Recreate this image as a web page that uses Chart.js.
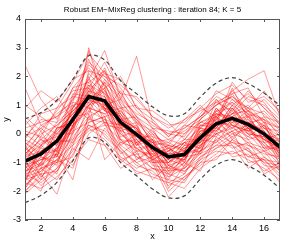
<!DOCTYPE html>
<html>
<head>
<meta charset="utf-8">
<script src="https://cdn.jsdelivr.net/npm/chart.js@4"></script>
<style>
  html, body { margin: 0; padding: 0; background: #fff; }
  #wrap { width: 284px; height: 242px; }
</style>
</head>
<body>
<div id="wrap"><canvas id="chart" width="284" height="242"></canvas></div>
<script>
const xs = [1,2,3,4,5,6,7,8,9,10,11,12,13,14,15,16,17];
const xTicks = [2,4,6,8,10,12,14,16];
const yTicks = [-3,-2,-1,0,1,2,3,4];

// cluster mean and the +/- bands (dashed)
const meanCurve = [-0.95,-0.7,-0.25,0.5,1.3,1.15,0.4,-0.02,-0.48,-0.8,-0.72,-0.14,0.35,0.54,0.33,0.0,-0.46];
const upperBand = [0.52,0.74,1.17,1.9,2.72,2.57,1.85,1.4,0.94,0.63,0.7,1.28,1.77,1.96,1.75,1.42,0.98];
const lowerBand = [-2.4,-2.14,-1.69,-0.94,-0.14,-0.3,-1.0,-1.46,-1.92,-2.23,-2.16,-1.58,-1.09,-0.9,-1.11,-1.44,-1.9];

// observed curves (red)
const curves = [
  [-1.2,-0.5,-0.6,0.9,1.6,0.8,0.7,-0.3,-0.2,-1.1,-0.4,-0.5,0.6,0.2,0.7,-0.3,-0.2],
  [-0.4,-1.1,0.2,0.3,2.1,1.5,0.1,0.3,-0.9,-0.6,-1.0,0.2,0.1,0.9,0.1,0.4,-0.8],
  [-1.8,-1.3,-0.9,-0.1,0.6,0.9,-0.2,-0.6,-0.7,-1.5,-1.2,-0.6,-0.2,0.1,-0.3,-0.5,-1.1],
  [0.2,0.4,0.6,1.2,2.4,1.9,1.3,0.6,0.2,-0.2,0.1,0.5,1.0,1.3,0.9,0.7,0.1],
  [-1.5,-0.8,-1.0,0.3,1.0,1.6,0.2,0.4,-1.0,-0.9,-0.3,-0.7,0.7,0.4,-0.1,0.3,-0.7],
  [-0.7,-0.2,-0.4,1.1,0.9,0.7,0.9,-0.4,0.1,-0.5,-1.0,0.3,0.2,1.0,0.6,-0.2,0.0],
  [2.4,1.2,0.5,1.6,1.8,2.2,1.1,0.5,-0.1,-0.3,0.2,0.6,1.1,0.8,1.5,0.9,0.4],
  [-2.1,-1.6,-1.2,-0.6,0.3,0.1,-0.5,-1.1,-1.3,-1.8,-1.5,-1.0,-0.5,-0.3,-0.6,-0.9,-1.4],
  [-0.9,-0.3,-0.1,0.2,3.0,0.8,0.5,0.2,-0.4,-0.7,-0.6,0.1,0.3,0.6,0.2,0.2,-0.3],
  [-1.3,-1.0,0.1,0.7,1.2,1.3,-0.1,0.1,-0.6,-1.2,-0.8,-0.2,0.9,0.3,0.1,-0.4,-0.6],
  [-0.5,-0.9,-0.7,0.5,1.7,1.0,0.6,-0.2,-0.8,-0.4,-0.5,-0.4,0.4,0.7,0.8,0.1,-0.9],
  [-1.6,-0.6,-0.3,-0.2,0.8,0.5,0.3,-0.9,-0.5,-1.3,-0.9,0.0,-0.1,0.5,0.0,-0.6,-0.4],
  [0.5,-0.2,0.3,0.8,1.4,2.3,1.0,0.4,-0.2,-0.5,-0.2,0.4,0.6,1.1,0.4,0.5,0.2],
  [-1.0,-1.4,-0.5,0.4,2.0,0.3,0.2,0.0,-0.3,-0.9,-1.1,-0.3,0.5,0.2,0.6,-0.1,-0.8],
  [-0.3,-0.7,-0.2,1.4,1.3,1.1,0.8,0.2,-0.6,-0.6,-0.3,0.2,0.0,0.9,0.3,0.6,-0.1],
  [-1.4,-1.2,-1.0,0.0,1.1,1.2,0.0,-0.5,-0.9,-1.6,-0.7,-0.5,0.2,-0.1,0.2,-0.4,-1.0],
  [-0.8,0.1,-0.8,0.6,0.7,1.8,0.4,-0.3,0.0,-0.8,-0.9,-0.1,0.8,0.5,-0.2,0.0,-0.3],
  [-1.9,-1.0,-1.4,0.1,0.4,0.6,-0.7,-0.3,-1.1,-1.2,-1.3,-0.8,-0.4,0.0,-0.2,-0.8,-1.2],
  [0.0,-0.4,0.4,0.9,1.9,1.4,0.9,0.5,-0.3,-0.2,-0.4,0.3,0.5,1.2,0.7,0.2,-0.2],
  [-1.1,-0.9,-0.5,0.2,1.5,0.9,0.6,-0.6,-0.4,-1.0,-0.6,-0.3,0.3,0.4,0.5,-0.2,-0.5],
  [1.6,0.3,0.0,0.7,1.2,0.9,0.3,0.0,-0.7,-0.5,-0.8,0.0,0.4,0.3,0.1,0.3,-0.6],
  [-1.7,-0.4,-0.8,0.5,1.0,1.2,-0.3,-0.2,-0.8,-1.4,-1.0,-0.6,0.1,0.7,0.2,-0.3,-0.9],
  [-0.6,-1.2,0.0,0.0,2.2,1.7,0.7,0.1,-0.5,-0.7,-0.2,-0.2,0.6,-0.2,0.4,0.1,-0.4],
  [-1.2,-0.7,-0.6,1.0,0.5,0.4,0.1,-0.1,-0.1,-1.1,-0.9,0.1,0.2,0.8,0.0,-0.1,-0.7],
  [-0.2,-0.5,0.2,0.4,1.6,1.0,1.2,0.3,-0.6,-0.9,-0.5,-0.1,0.7,0.6,0.9,0.2,0.1],
  [-1.5,-1.3,-0.7,0.3,0.9,0.7,0.0,-0.4,-0.2,-1.9,-1.1,-0.4,0.0,0.2,-0.1,-0.3,-0.8],
  [-0.8,-0.6,-0.2,0.8,1.3,2.2,0.5,0.6,-0.4,-0.3,-0.6,0.4,0.3,1.6,0.5,0.0,-0.2],
  [-1.0,-0.1,-0.4,0.6,1.8,1.1,-0.2,-0.3,-1.0,-1.0,-0.4,-0.3,1.2,0.5,0.1,-0.2,-0.5],
  [-0.4,-1.5,-0.9,-0.4,1.0,1.5,0.7,-0.1,-0.6,-0.4,-1.2,-0.2,-0.3,0.4,0.8,0.5,-0.6],
  [-1.3,-0.8,0.2,0.4,1.2,0.6,0.8,0.1,-0.2,-1.3,-0.6,0.2,0.6,0.1,0.3,-0.5,-0.3],
  [-0.1,0.2,-0.3,1.3,2.6,1.3,0.3,-0.1,-0.5,-0.7,-0.7,0.0,0.5,1.4,0.6,0.3,-0.1],
  [-1.6,-1.0,-0.2,-0.3,0.5,1.0,0.1,-0.7,-0.7,-1.1,-1.4,-0.4,0.0,0.3,-0.4,-0.7,-0.8],
  [-0.7,-0.2,-0.6,0.5,1.1,0.4,0.3,0.2,-0.9,-0.6,-0.3,-0.5,0.8,0.9,0.2,0.1,-1.1],
  [-1.1,-0.4,0.1,0.7,1.5,1.3,0.6,-0.4,0.2,-0.8,-0.9,0.1,0.1,0.6,0.4,0.0,-0.4],
  [-0.9,-1.1,-0.5,0.1,1.4,0.9,-0.4,0.0,-0.5,-1.2,-0.6,-0.6,0.4,0.0,0.2,-0.5,-0.5],
  [-1.4,-0.6,-0.3,0.9,1.7,1.4,0.5,0.2,-0.8,-0.5,-0.8,0.3,0.3,0.7,1.0,0.4,-0.3],
  [-0.3,-0.8,-1.1,0.3,0.8,1.9,1.0,-0.2,-0.3,-0.9,-0.3,-0.2,0.9,0.3,0.0,-0.1,-0.6],
  [-2.0,-1.4,-1.3,-0.5,-0.9,0.2,-0.4,-0.8,-1.0,-2.2,-1.6,-0.9,-0.6,-0.7,-0.5,-1.0,-1.1],
  [-0.6,0.0,0.3,0.8,1.3,0.8,1.5,0.4,0.1,-0.6,0.0,0.4,0.7,0.5,0.6,0.8,0.2],
  [-1.2,-0.9,-0.8,0.2,2.9,1.6,0.2,-0.5,-0.4,-1.0,-0.5,-0.3,0.2,1.0,0.2,-0.2,-0.7],
  [-0.5,0.3,0.6,1.0,1.1,1.8,1.2,2.7,0.4,-0.1,0.3,0.2,0.8,1.1,0.7,0.5,0.0],
  [-1.3,-1.1,-0.7,-1.6,0.7,-0.4,-1.2,-0.9,-0.6,-1.4,-0.8,-0.7,0.0,-0.3,-0.4,-0.6,-0.9],
  [-0.8,-0.4,0.0,0.6,1.2,1.0,0.4,0.0,-0.3,-0.4,-0.6,0.5,1.0,1.5,1.9,2.2,0.6],
  [-1.0,-1.6,-0.4,0.2,1.0,-0.9,-0.3,-0.5,-0.9,-1.0,-0.7,-0.6,0.3,-0.4,-1.2,-0.8,-1.3],
  [0.9,1.5,1.1,1.9,2.2,2.0,1.7,1.2,0.6,0.3,0.4,0.9,1.4,1.7,1.2,1.0,0.5],
  [-1.7,-1.9,-1.5,-0.9,-0.2,-0.4,-0.9,-1.3,-1.5,-1.7,-1.9,-1.2,-0.8,-0.6,-0.9,-1.2,-1.6],
  [0.3,0.9,1.3,0.5,1.5,2.1,1.9,0.9,0.5,-0.1,0.5,1.0,0.4,1.8,1.1,1.3,0.8],
  [-1.5,-2.0,-0.6,-1.1,0.0,0.4,-1.0,-0.6,-1.6,-1.1,-1.3,-0.9,-0.2,-0.8,-0.7,-1.3,-1.0],
  [-0.2,0.7,0.9,1.8,2.8,2.1,1.6,0.8,0.3,0.0,-0.1,0.7,1.3,1.0,1.4,0.9,0.3],
  [-1.8,-1.2,-1.6,-0.7,0.2,-0.2,-0.8,-1.2,-0.9,-2.0,-1.5,-1.1,-0.7,-0.2,-0.8,-0.9,-1.5],
  [0.6,0.1,0.8,1.5,1.6,2.5,1.4,1.3,0.6,0.2,0.5,0.8,1.1,1.4,1.6,0.6,0.4],
  [-1.4,-1.7,-1.2,-0.2,0.3,0.0,-0.6,-1.4,-1.2,-1.5,-1.0,-1.3,-0.1,-0.5,-0.3,-1.1,-1.2],
  [-0.1,0.5,0.4,1.6,2.3,1.7,0.9,1.0,0.2,0.1,0.0,0.6,1.2,0.7,1.3,1.1,0.3],
  [-2.0,-1.5,-1.0,-0.8,0.6,-0.1,-0.6,-1.0,-1.4,-1.6,-1.7,-0.8,-0.5,-0.1,-0.6,-1.0,-1.7],
  [1.0,0.6,0.2,1.2,1.9,2.9,1.2,0.7,0.4,0.0,0.2,0.6,1.0,1.3,0.8,1.2,0.6],
  [-1.6,-1.4,-2.1,-0.4,0.1,0.3,-0.2,-0.8,-1.2,-1.3,-1.2,-0.7,-0.4,-0.4,-0.8,-0.6,-1.3],
  [-0.4,0.2,0.7,1.1,2.5,2.0,1.4,0.6,0.0,-0.4,0.3,0.9,0.6,1.5,0.8,0.4,0.2],
  [-1.1,-1.8,-1.3,-0.3,0.2,0.5,-0.5,-1.0,-0.8,-1.7,-1.4,-0.6,-0.3,0.1,-1.0,-0.9,-1.0],
  [0.1,-0.1,0.9,1.3,1.2,1.6,2.0,0.9,0.8,0.4,-0.2,0.5,1.5,1.2,0.9,1.5,0.7],
  [-1.9,-1.2,-0.9,-1.2,0.4,0.6,-0.9,-0.7,-1.2,-1.4,-1.6,-1.0,-0.9,-0.2,-0.5,-1.4,-1.1]
];

const pt = arr => arr.map((v, i) => ({ x: xs[i], y: v }));

// lower order is drawn on top
const datasets = curves.map(c => ({
  data: pt(c),
  borderColor: 'rgba(255,0,0,0.4)',
  borderWidth: 1,
  pointRadius: 0,
  tension: 0,
  order: 3
}));
datasets.push({
  data: pt(upperBand), borderColor: '#444', borderWidth: 1.2,
  borderDash: [4, 3], pointRadius: 0, tension: 0.35, order: 2
});
datasets.push({
  data: pt(lowerBand), borderColor: '#444', borderWidth: 1.2,
  borderDash: [4, 3], pointRadius: 0, tension: 0.35, order: 2
});
datasets.push({
  data: pt(meanCurve), borderColor: '#000', borderWidth: 3.5,
  pointRadius: 0, tension: 0, order: 1
});

// frame, inside ticks, title and axis names in matlab style
const matlabFrame = {
  id: 'matlabFrame',
  afterDraw(chart) {
    const { ctx, chartArea: a, scales } = chart;
    ctx.save();
    ctx.strokeStyle = '#555';
    ctx.lineWidth = 1;
    ctx.strokeRect(a.left + 0.5, a.top + 0.5, a.right - a.left - 1, a.bottom - a.top - 1);
    ctx.beginPath();
    xTicks.forEach(t => {
      const px = Math.round(scales.x.getPixelForValue(t)) + 0.5;
      ctx.moveTo(px, a.bottom); ctx.lineTo(px, a.bottom - 3);
      ctx.moveTo(px, a.top); ctx.lineTo(px, a.top + 3);
    });
    yTicks.forEach(t => {
      const py = Math.round(scales.y.getPixelForValue(t)) + 0.5;
      ctx.moveTo(a.left, py); ctx.lineTo(a.left + 3, py);
      ctx.moveTo(a.right, py); ctx.lineTo(a.right - 3, py);
    });
    ctx.stroke();
    ctx.fillStyle = '#000';
    ctx.font = '8px "Liberation Sans", Arial, sans-serif';
    ctx.textAlign = 'center';
    ctx.textBaseline = 'middle';
    ctx.fillText('Robust EM\u2212MixReg clustering : iteration 84; K = 5', (a.left + a.right) / 2, 10);
    ctx.font = '9px "Liberation Sans", Arial, sans-serif';
    ctx.fillText('x', (a.left + a.right) / 2, 237);
    ctx.translate(7, (a.top + a.bottom) / 2);
    ctx.rotate(-Math.PI / 2);
    ctx.fillText('y', 0, 0);
    ctx.restore();
  }
};

new Chart(document.getElementById('chart'), {
  type: 'line',
  data: { datasets: datasets },
  plugins: [matlabFrame],
  options: {
    responsive: false,
    animation: false,
    events: [],
    layout: { padding: { top: 19, right: 4, left: 0, bottom: 0 } },
    plugins: { legend: { display: false }, tooltip: { enabled: false } },
    scales: {
      x: {
        type: 'linear', min: 1, max: 17,
        grid: { display: false, drawTicks: false }, border: { display: false },
        afterBuildTicks: s => { s.ticks = xTicks.map(v => ({ value: v })); },
        afterFit: s => { s.height = 22; },
        ticks: { color: '#000', padding: 3, maxRotation: 0, font: { size: 9, family: '"Liberation Sans", Arial' } }
      },
      y: {
        min: -3, max: 4,
        grid: { display: false, drawTicks: false }, border: { display: false },
        afterBuildTicks: s => { s.ticks = yTicks.map(v => ({ value: v })); },
        afterFit: s => { s.width = 25; },
        ticks: { color: '#000', padding: 4, font: { size: 9, family: '"Liberation Sans", Arial' } }
      }
    }
  }
});
</script>
</body>
</html>
